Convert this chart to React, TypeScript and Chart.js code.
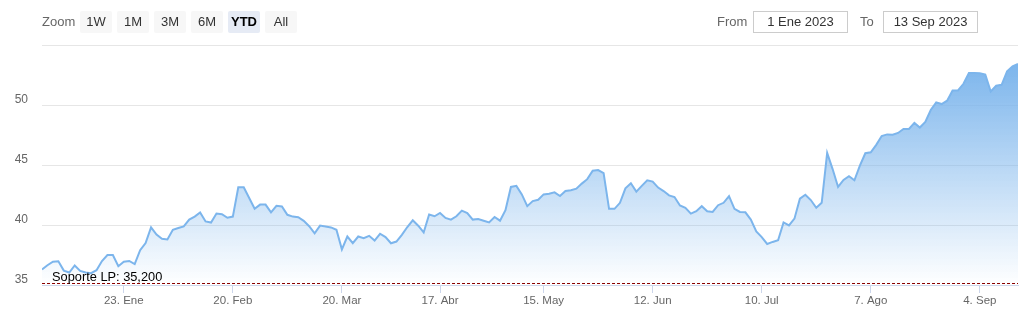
import React, { useEffect, useRef } from "react";
import { Chart, registerables } from "chart.js";

Chart.register(...registerables);

// ---- data ----
const startDate = "2023-01-02";
const endDate = "2023-09-13";
const holidays = ["2023-04-06", "2023-04-07", "2023-05-01"];

const prices: number[] = [
  36.29, 36.65, 36.94, 36.98, 36.2, 36.04, 36.63, 36.18, 36.04, 35.98,
  36.23, 37.0, 37.5, 37.5, 36.57, 36.94, 37.0, 36.74, 37.9, 38.5,
  39.8, 39.2, 38.85, 38.8, 39.6, 39.75, 39.88, 40.45, 40.7, 41.05,
  40.3, 40.2, 40.95, 40.9, 40.6, 40.7, 43.15, 43.15, 42.25,
  41.35, 41.7, 41.7, 41.05, 41.6, 41.55, 40.85, 40.7, 40.65, 40.35,
  39.9, 39.3, 39.95, 39.88, 39.8, 39.6,
  37.97, 39.04, 38.48, 39.04, 38.9, 39.1, 38.7, 39.27, 38.99, 38.48,
  38.62, 39.18, 39.83, 40.39, 39.94, 39.38, 40.87, 40.73, 41.0, 40.59,
  40.45, 40.73, 41.2, 41.0, 40.45, 40.5, 40.36, 40.22, 40.67, 40.36,
  41.23, 43.17, 43.26, 42.55, 41.57, 41.99, 42.1, 42.55, 42.6, 42.72,
  42.41, 42.83, 42.89, 43.03, 43.45, 43.82, 44.52, 44.58, 44.32, 41.35,
  41.35, 41.85, 43.06, 43.48, 42.78, 43.26, 43.73, 43.62, 43.12, 42.83,
  42.47, 42.33, 41.63,
  41.43, 40.95, 41.15, 41.57, 41.15, 41.09, 41.65, 41.85, 42.41, 41.35,
  41.09, 41.06, 40.45, 39.46, 38.99, 38.42, 38.59, 38.73, 40.22, 39.97,
  40.53, 42.19, 42.52, 42.08, 41.43, 41.85, 46.01, 44.66, 43.17, 43.76,
  44.07, 43.73, 44.94, 45.98, 46.06, 46.68, 47.41, 47.55, 47.53, 47.67, 48.0,
  48.0, 48.51, 48.12, 48.59, 49.58, 50.22, 50.08, 50.36, 51.21, 51.21,
  51.77, 52.67, 52.67, 52.64, 52.53, 51.12, 51.6, 51.68, 52.81, 53.23, 53.42,
];

const tickDates = [
  "2023-01-23", "2023-02-20", "2023-03-20", "2023-04-17", "2023-05-15",
  "2023-06-12", "2023-07-10", "2023-08-07", "2023-09-04",
];
const tickLabels = [
  "23. Ene", "20. Feb", "20. Mar", "17. Abr", "15. May",
  "12. Jun", "10. Jul", "7. Ago", "4. Sep",
];
const yTicks = [35, 40, 45, 50, 55];
const yMin = 35;
const yMax = 55;

const supportValue = 35.2;
const supportLabel = "Soporte LP: 35,200";

const zoomButtons = ["1W", "1M", "3M", "6M", "YTD", "All"];
const selectedButton = "YTD";
const fromText = "1 Ene 2023";
const toText = "13 Sep 2023";

// trading-day categories (weekdays minus holidays)
function buildTradingDays(): string[] {
  const out: string[] = [];
  const d = new Date(startDate + "T00:00:00Z");
  const end = new Date(endDate + "T00:00:00Z");
  while (d <= end) {
    const wd = d.getUTCDay();
    const iso = d.toISOString().slice(0, 10);
    if (wd !== 0 && wd !== 6 && !holidays.includes(iso)) out.push(iso);
    d.setUTCDate(d.getUTCDate() + 1);
  }
  return out;
}
const tradingDays = buildTradingDays();

const FONT = '"Liberation Sans", Arial, Helvetica, sans-serif';

const supportPlugin = {
  id: "supportLine",
  afterDatasetsDraw(chart: any) {
    const { ctx, chartArea, scales } = chart;
    const y = Math.round(scales.y.getPixelForValue(supportValue)) + 0.5;
    ctx.save();
    ctx.strokeStyle = "#8b0000";
    ctx.lineWidth = 1;
    ctx.setLineDash([3, 2]);
    ctx.beginPath();
    ctx.moveTo(chartArea.left, y);
    ctx.lineTo(chartArea.right, y);
    ctx.stroke();
    ctx.setLineDash([]);
    ctx.fillStyle = "#000000";
    ctx.font = `12.8px ${FONT}`;
    ctx.textBaseline = "alphabetic";
    ctx.textAlign = "left";
    ctx.fillText(supportLabel, chartArea.left + 10, y - 3);
    ctx.restore();
  },
};

export default function App() {
  const ref = useRef<HTMLCanvasElement>(null);

  useEffect(() => {
    const canvas = ref.current!;
    const n = Math.min(prices.length, tradingDays.length);
    const points = prices.slice(0, n).map((v, i) => ({ x: i, y: v }));
    const tickIdx = tickDates.map((d) => tradingDays.indexOf(d));
    const maxVal = Math.max(...prices);

    const chart = new Chart(canvas, {
      type: "line",
      data: {
        datasets: [
          {
            data: points,
            borderColor: "#7cb5ec",
            borderWidth: 2,
            pointRadius: 0,
            tension: 0,
            fill: "start",
            backgroundColor: (c: any) => {
              const ch = c.chart;
              const area = ch.chartArea;
              if (!area) return "rgba(124,181,236,0.3)";
              const top = ch.scales.y.getPixelForValue(maxVal);
              const g = ch.ctx.createLinearGradient(0, top, 0, area.bottom);
              g.addColorStop(0, "rgba(124,181,236,1)");
              g.addColorStop(1, "rgba(124,181,236,0)");
              return g;
            },
          },
        ],
      },
      options: {
        responsive: false,
        animation: false,
        devicePixelRatio: 1,
        layout: { padding: { top: 45, right: 3, left: 0, bottom: 0 } },
        plugins: {
          legend: { display: false },
          tooltip: { enabled: false },
        },
        scales: {
          x: {
            type: "linear",
            min: 0,
            max: n - 1,
            afterBuildTicks: (s: any) => {
              s.ticks = tickIdx.map((v) => ({ value: v }));
            },
            afterFit: (s: any) => {
              s.height = 36;
            },
            grid: {
              drawOnChartArea: false,
              drawTicks: true,
              tickLength: 8,
              color: "#ccd6eb",
            },
            border: { display: true, color: "#ccd6eb" },
            ticks: {
              autoSkip: false,
              maxRotation: 0,
              padding: 1,
              color: "#666666",
              font: { family: FONT, size: 11.5 },
              callback: (v: any) => {
                const k = tickIdx.indexOf(Number(v));
                return k >= 0 ? tickLabels[k] : "";
              },
            },
          },
          y: {
            min: yMin,
            max: yMax,
            afterBuildTicks: (s: any) => {
              s.ticks = yTicks.map((v) => ({ value: v }));
            },
            afterFit: (s: any) => {
              s.width = 42;
            },
            grid: { color: "#e6e6e6", drawTicks: false, lineWidth: 1 },
            border: { display: false },
            ticks: {
              padding: 14,
              labelOffset: -5,
              color: "#666666",
              font: { family: FONT, size: 12 },
              callback: (v: any) => (Number(v) === yMax ? "" : String(v)),
            },
          },
        },
      },
      plugins: [supportPlugin],
    } as any);

    return () => chart.destroy();
  }, []);

  const labelStyle: React.CSSProperties = {
    position: "absolute",
    top: 11,
    height: 22,
    lineHeight: "22px",
    fontFamily: FONT,
    fontSize: 13,
    color: "#666666",
  };

  const boxStyle: React.CSSProperties = {
    position: "absolute",
    top: 11,
    width: 95,
    height: 22,
    boxSizing: "border-box",
    border: "1px solid #cccccc",
    lineHeight: "20px",
    textAlign: "center",
    fontFamily: FONT,
    fontSize: 13,
    color: "#333333",
  };

  return (
    <div
      style={{
        position: "absolute",
        left: 0,
        top: 0,
        width: 1021,
        height: 321,
        background: "#ffffff",
        overflow: "hidden",
      }}
    >
      <canvas
        ref={ref}
        width={1021}
        height={321}
        style={{ position: "absolute", left: 0, top: 0, width: 1021, height: 321 }}
      />
      <div style={{ ...labelStyle, left: 42 }}>Zoom</div>
      {zoomButtons.map((b, i) => {
        const sel = b === selectedButton;
        return (
          <div
            key={b}
            style={{
              position: "absolute",
              left: 80 + i * 37,
              top: 11,
              width: 32,
              height: 22,
              lineHeight: "22px",
              textAlign: "center",
              borderRadius: 2,
              background: sel ? "#e6ebf5" : "#f7f7f7",
              color: sel ? "#000000" : "#333333",
              fontWeight: sel ? "bold" : "normal",
              fontFamily: FONT,
              fontSize: 13,
            }}
          >
            {b}
          </div>
        );
      })}
      <div style={{ ...labelStyle, left: 717 }}>From</div>
      <div style={{ ...boxStyle, left: 753 }}>{fromText}</div>
      <div style={{ ...labelStyle, left: 860 }}>To</div>
      <div style={{ ...boxStyle, left: 883 }}>{toText}</div>
    </div>
  );
}
